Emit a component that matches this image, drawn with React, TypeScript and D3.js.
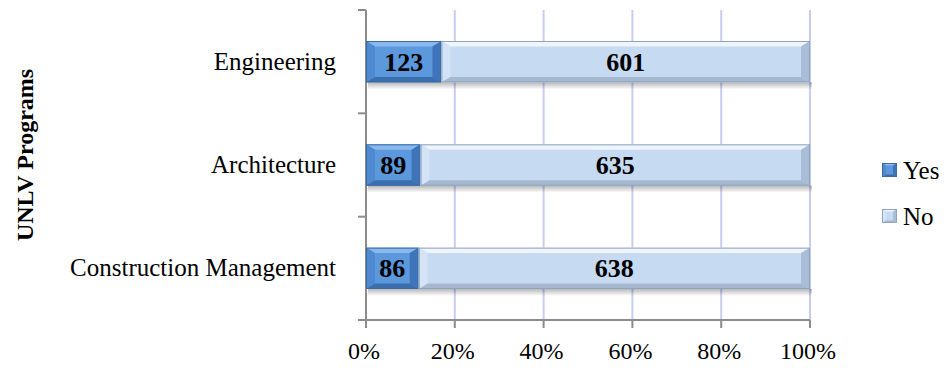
import React from "react";
import * as d3 from "d3";

const categories = ["Engineering", "Architecture", "Construction Management"];
const yesValues = [123, 89, 86];
const noValues = [601, 635, 638];
const seriesNames = ["Yes", "No"];
const tickLabels = ["0%", "20%", "40%", "60%", "80%", "100%"];

const W = 946;
const H = 375;
const margin = { left: 366, right: 136, top: 10, bottom: 55 };
const FONT = "'Liberation Serif', 'Times New Roman', serif";

type Seg = { key: string; cat: string; x0: number; x1: number; value: number };

function Bevel({ x, y, w, h, pal, b }: { x: number; y: number; w: number; h: number; pal: any; b: number }) {
  const x1 = x + w;
  const y1 = y + h;
  const v = b * 0.6;
  return (
    <g>
      <rect x={x} y={y} width={w} height={h} fill={pal.base} />
      {/* top facet */}
      <polygon points={`${x},${y} ${x1},${y} ${x1 - b},${y + v} ${x + b},${y + v}`} fill={pal.top} />
      {/* left facet */}
      <polygon points={`${x},${y} ${x + b},${y + v} ${x + b},${y1 - v} ${x},${y1}`} fill={pal.left} />
      {/* right facet */}
      <polygon points={`${x1},${y} ${x1},${y1} ${x1 - b},${y1 - v} ${x1 - b},${y + v}`} fill={pal.right} />
      {/* bottom facet */}
      <polygon points={`${x},${y1} ${x + b},${y1 - v} ${x1 - b},${y1 - v} ${x1},${y1}`} fill={pal.bottom} />
      <rect x={x + 0.5} y={y + 0.5} width={w - 1} height={h - 1} fill="none" stroke={pal.stroke} strokeWidth={1} />
    </g>
  );
}

const palettes: Record<string, any> = {
  Yes: { base: "#5b98dc", top: "#8ab8ec", left: "#4f8ad0", right: "#3f74b8", bottom: "#3b6fae", stroke: "#3a6aa4" },
  No: { base: "#c6daf1", top: "#eef5fd", left: "#d4e3f5", right: "#a9bdd6", bottom: "#a5b8d0", stroke: "#8ea3bd" },
};

export default function App() {
  const x = d3.scaleLinear().domain([0, 1]).range([margin.left, W - margin.right]);
  const y = d3
    .scaleBand<string>()
    .domain(categories)
    .range([margin.top, H - margin.bottom])
    .paddingInner(0.6)
    .paddingOuter(0.3);
  const band = d3.scaleBand<string>().domain(categories).range([margin.top, H - margin.bottom]);

  const segs: Seg[] = [];
  categories.forEach((c, i) => {
    const total = yesValues[i] + noValues[i];
    const yes = yesValues[i] / total;
    segs.push({ key: "Yes", cat: c, x0: 0, x1: yes, value: yesValues[i] });
    segs.push({ key: "No", cat: c, x0: yes, x1: 1, value: noValues[i] });
  });

  const ticks = d3.range(0, 1.0001, 0.2);
  const plotBottom = H - margin.bottom;
  const bh = y.bandwidth();

  return (
    <svg width={W} height={H} style={{ position: "absolute", left: 0, top: 0, background: "#fff" }}>
      <defs>
        <linearGradient id="shadow" x1="0" y1="0" x2="0" y2="1">
          <stop offset="0" stopColor="#000" stopOpacity={0.28} />
          <stop offset="1" stopColor="#000" stopOpacity={0} />
        </linearGradient>
      </defs>
      {/* gridlines */}
      {ticks.slice(1).map((t, i) => (
        <line key={i} x1={x(t)} x2={x(t)} y1={margin.top} y2={plotBottom} stroke="#c8ccf2" strokeWidth={2} />
      ))}
      {/* axes */}
      <line x1={margin.left - 8} x2={W - margin.right} y1={plotBottom} y2={plotBottom} stroke="#8c8c8c" strokeWidth={2} />
      <line x1={margin.left} x2={margin.left} y1={margin.top} y2={plotBottom + 8} stroke="#8c8c8c" strokeWidth={2} />
      {categories.map((c) => (
        <line key={c} x1={margin.left - 8} x2={margin.left} y1={band(c)!} y2={band(c)!} stroke="#8c8c8c" strokeWidth={2} />
      ))}
      {ticks.slice(1).map((t, i) => (
        <line key={i} x1={x(t)} x2={x(t)} y1={plotBottom} y2={plotBottom + 8} stroke="#8c8c8c" strokeWidth={2} />
      ))}
      {/* bar shadows */}
      {categories.map((c) => (
        <rect key={c} x={x(0) + 2} y={y(c)! + bh} width={x(1) - x(0)} height={7} fill="url(#shadow)" />
      ))}
      {/* bars */}
      {segs.map((s, i) => (
        <Bevel key={i} x={x(s.x0)} y={y(s.cat)!} w={x(s.x1) - x(s.x0)} h={bh} pal={palettes[s.key]} b={9} />
      ))}
      {/* value labels */}
      {segs.map((s, i) => (
        <text
          key={i}
          x={(x(s.x0) + x(s.x1)) / 2}
          y={y(s.cat)! + bh / 2 + 9}
          textAnchor="middle"
          fontFamily={FONT}
          fontWeight="bold"
          fontSize={26}
          fill="#000"
        >
          {s.value}
        </text>
      ))}
      {/* category labels */}
      {categories.map((c) => (
        <text key={c} x={336} y={y(c)! + bh / 2 + 8} textAnchor="end" fontFamily={FONT} fontSize={25} fill="#000">
          {c}
        </text>
      ))}
      {/* x tick labels */}
      {ticks.map((t, i) => (
        <text key={i} x={x(t) - 2} y={359} textAnchor="middle" fontFamily={FONT} fontSize={24} fill="#000">
          {tickLabels[i]}
        </text>
      ))}
      {/* y axis title */}
      <text
        transform={`translate(33, 155) rotate(-90)`}
        textAnchor="middle"
        fontFamily={FONT}
        fontWeight="bold"
        fontSize={24}
        fill="#000"
      >
        UNLV Programs
      </text>
      {/* legend */}
      {seriesNames.map((n, i) => (
        <g key={n} transform={`translate(882, ${163 + i * 46})`}>
          <Bevel x={0} y={0} w={15} h={14} pal={palettes[n]} b={4} />
          <text x={21} y={16} fontFamily={FONT} fontSize={25} fill="#000">
            {n}
          </text>
        </g>
      ))}
    </svg>
  );
}
